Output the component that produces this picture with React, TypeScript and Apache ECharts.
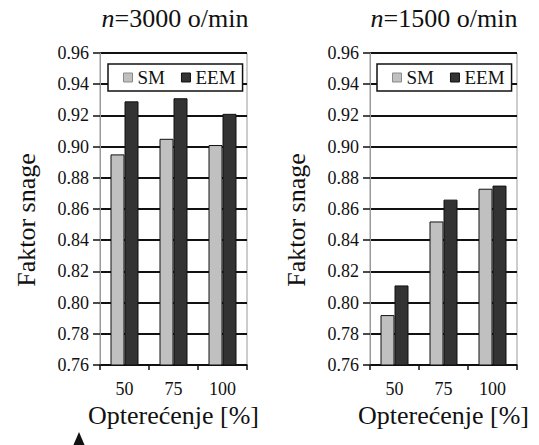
import React, { useEffect, useRef } from "react";
import * as echarts from "echarts";

const categories = ["50", "75", "100"];
const smLeft = [0.895, 0.905, 0.901];
const eemLeft = [0.929, 0.931, 0.921];
const smRight = [0.792, 0.852, 0.873];
const eemRight = [0.811, 0.866, 0.875];
const titles = ["3000", "1500"];
const yMin = 0.76;
const yMax = 0.96;
const yStep = 0.02;

const FONT = "Liberation Serif";
const SM_COLOR = "#c0c0c0";
const EEM_COLOR = "#333333";

export default function App() {
  const ref = useRef<HTMLDivElement>(null);
  useEffect(() => {
    if (!ref.current) return;
    const chart = echarts.init(ref.current, undefined, { renderer: "svg" });
    const grids = [
      { left: 100, top: 53, width: 147, height: 312 },
      { left: 370, top: 53, width: 147, height: 312 },
    ];
    const makeX = (i: number) => ({
      type: "category",
      gridIndex: i,
      data: categories,
      boundaryGap: true,
      name: "Optere\u0107enje [%]",
      nameLocation: "middle",
      nameGap: 33,
      nameTextStyle: { fontSize: 26, fontFamily: FONT, color: "#111" },
      axisLine: { show: true, lineStyle: { color: "#111", width: 1.5 } },
      axisTick: { show: true, alignWithLabel: false, length: 5, lineStyle: { color: "#111", width: 1.5 } },
      axisLabel: { fontSize: 18, fontFamily: FONT, color: "#111", margin: 15 },
      splitLine: { show: false },
    });
    const makeY = (i: number) => ({
      type: "value",
      gridIndex: i,
      min: yMin,
      max: yMax,
      interval: yStep,
      name: "Faktor snage",
      nameLocation: "middle",
      nameGap: 61,
      nameTextStyle: { fontSize: 26, fontFamily: FONT, color: "#111", padding: [0, 22, 0, 0] },
      axisLine: { show: true, lineStyle: { color: "#9a9a9a", width: 1 } },
      axisTick: { show: true, inside: false, length: 7, lineStyle: { color: "#111", width: 1.5 } },
      axisLabel: {
        fontSize: 18,
        fontFamily: FONT,
        color: "#111",
        margin: 11,
        formatter: (v: number) => v.toFixed(2),
      },
      splitLine: { show: true, lineStyle: { color: "#111", width: 1.8 } },
    });
    const barBase = {
      type: "bar",
      barWidth: 14,
      barGap: "0%",
    };
    const smStyle = { color: SM_COLOR, borderColor: "#111", borderWidth: 1 };
    const eemStyle = { color: EEM_COLOR, borderColor: "#111", borderWidth: 1 };
    const makeLegend = (left: number) => ({
      left,
      top: 64,
      orient: "horizontal",
      icon: "rect",
      itemWidth: 9,
      itemHeight: 9,
      itemGap: 16,
      padding: [4, 7, 4, 15],
      backgroundColor: "#fff",
      borderColor: "#111",
      borderWidth: 1.5,
      textStyle: { fontSize: 19, fontFamily: FONT, color: "#111" },
      data: [
        { name: "SM", itemStyle: { borderColor: "#8a8a8a", borderWidth: 1 } },
        { name: "EEM", itemStyle: { borderColor: "#111", borderWidth: 1 } },
      ],
    });
    const titleText = (x: number, n: string) => ({
      type: "text",
      x,
      y: 18,
      style: {
        text: "{i|n}{r|=" + n + " o/min}",
        textAlign: "center",
        textVerticalAlign: "middle",
        fontSize: 26,
        fontFamily: FONT,
        fill: "#111",
        rich: {
          i: { fontStyle: "italic", fontSize: 26, fontFamily: FONT, fill: "#111" },
          r: { fontStyle: "normal", fontSize: 26, fontFamily: FONT, fill: "#111" },
        },
      },
    });
    chart.setOption({
      animation: false,
      backgroundColor: "#fff",
      textStyle: { fontFamily: FONT },
      grid: grids.map((g) => ({ ...g, show: true, borderColor: "#9a9a9a", borderWidth: 1, backgroundColor: "transparent" })),
      xAxis: [makeX(0), makeX(1)],
      yAxis: [makeY(0), makeY(1)],
      legend: [makeLegend(108), makeLegend(377)],
      series: [
        { ...barBase, name: "SM", xAxisIndex: 0, yAxisIndex: 0, data: smLeft, itemStyle: smStyle },
        { ...barBase, name: "EEM", xAxisIndex: 0, yAxisIndex: 0, data: eemLeft, itemStyle: eemStyle },
        { ...barBase, name: "SM", xAxisIndex: 1, yAxisIndex: 1, data: smRight, itemStyle: smStyle },
        { ...barBase, name: "EEM", xAxisIndex: 1, yAxisIndex: 1, data: eemRight, itemStyle: eemStyle },
      ],
      graphic: [
        titleText(175, titles[0]),
        titleText(444, titles[1]),
        {
          type: "polygon",
          shape: { points: [[73, 446], [79, 432], [85, 446]] },
          style: { fill: "#111" },
        },
      ],
    });
    return () => chart.dispose();
  }, []);
  return (
    <div
      ref={ref}
      style={{ position: "fixed", left: 0, top: 0, width: 539, height: 445, background: "#fff" }}
    />
  );
}
